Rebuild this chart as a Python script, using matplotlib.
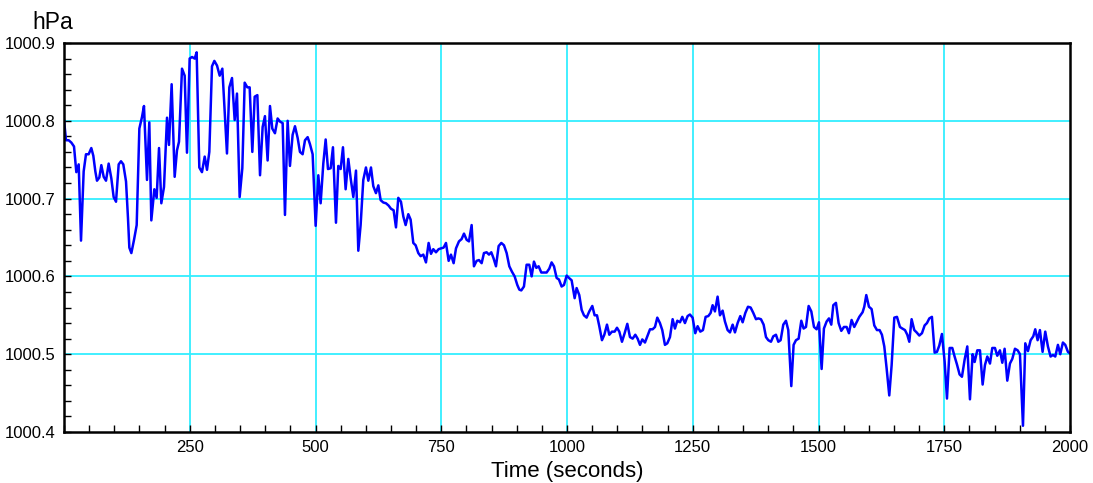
import matplotlib
matplotlib.use("Agg")
import matplotlib.pyplot as plt
from matplotlib.ticker import MultipleLocator, FixedLocator

time_s = [
    0, 4, 9.3, 14.6, 19.9, 24.5, 29.2, 33.8, 39.1, 43.7, 49, 54.3, 58.3, 62.3, 65.6,
    70.2, 74.2, 78.9, 83.5, 88.8, 94.1, 98.7, 103.4, 108.7, 113.3, 117.9, 123.3, 127.2,
    129.9, 133.9, 139.2, 144.5, 149.8, 155.1, 159.0, 165.0, 169.6, 173.6, 179.6, 184.2,
    188.9, 193.5, 198.8, 204.8, 208.7, 214.0, 220.0, 224.6, 228.6, 234.6, 239.9, 244.5,
    249.8, 254.5, 259.8, 263.7, 269.0, 274.3, 279.7, 284.3, 288.9, 294.2, 298.9, 304.2,
    309.5, 314.8, 324.0, 328.7, 334.0, 339.3, 343.9, 349.2, 354.5, 359.2, 364.5, 369.1,
    374.4, 379.1, 384.4, 389.7,
    394.9, 399.5, 404.8, 409.5, 414.1, 419.4, 424.7, 429.4, 434.7, 439.3, 444.6, 449.2,
    454.5, 459.2, 464.5, 469.1, 474.4, 479.1, 484.4, 489.0, 494.3, 500.3, 505.6, 510.2,
    515.5, 520.2, 524.8, 530.1, 534.7, 540.7, 545.3, 550.0, 554.6, 559.9, 565.2, 569.9,
    575.2, 580.5, 585.1, 589.7, 595.0, 600.3, 605.0, 610.3, 614.9, 620.2, 624.9, 629.5,
    634.8, 640.1, 645.4, 650.0, 655.3, 660.0, 664.6, 669.9, 674.6, 679.2, 684.5, 689.1,
    694.4, 699.1, 704.4, 709.0, 714.3, 719.6, 724.9, 729.6, 734.2, 739.5, 744.8, 749.4,
    754.7, 759.4, 764.7, 769.3, 774.6, 779.3, 785.2,
    790.5, 795.2, 800.5, 805.1, 810.4, 815.0, 820.3, 825.0, 830.3, 834.9, 840.2, 844.9,
    849.5, 854.1, 858.8, 864.1, 869.4, 874.7, 880.0, 885.3, 890.6, 895.9, 901.2, 905.2,
    909.1, 914.4, 919.7, 925.0, 929.7, 934.3, 939.0, 943.6, 948.9, 954.2, 959.5, 964.8,
    969.4, 974.1, 979.4, 984.0, 989.3, 994.0, 999.3, 1004.0, 1009.2, 1015.2, 1019.1,
    1024.4, 1029.1, 1033.7, 1039.0, 1044.3, 1050.3, 1054.9, 1059.6, 1064.2, 1069.5,
    1074.2, 1079.5, 1084.1, 1089.4, 1094.7, 1099.4, 1104.0, 1109.3, 1114.6, 1119.9,
    1125.2, 1130.5, 1135.8, 1140.4, 1145.1, 1149.7, 1155.0, 1159.6, 1165.0, 1170.2,
    1174.9, 1179.5, 1184.8,
    1189.4, 1194.7, 1199.4, 1204.7, 1210.0, 1214.6, 1219.3, 1224.6, 1229.2, 1234.5,
    1239.8, 1244.4, 1249.7, 1255.0, 1259.7, 1265.0, 1270.3, 1275.6, 1280.9, 1285.5,
    1289.5, 1294.1, 1299.4, 1304.1, 1309.4, 1314.0, 1319.3, 1324.0, 1329.3, 1333.9,
    1339.2, 1344.5, 1349.2, 1354.5, 1359.8, 1365.1, 1370.4, 1375.7, 1380.3, 1385.6,
    1390.9, 1395.6, 1400.2, 1405.5, 1410.1, 1415.4, 1420.1, 1424.7, 1430.0, 1435.3,
    1439.9, 1445.9, 1450.5, 1455.2, 1460.5, 1465.8, 1470.4, 1475.1, 1480.4, 1485.7,
    1491.0, 1496.3, 1500.9, 1506.2, 1510.8, 1516.1, 1520.8, 1525.4, 1529.4, 1534.7,
    1540.0, 1545.3, 1550.6, 1555.9, 1560.5, 1565.8, 1571.1, 1576.4, 1581.1,
    1587.7, 1591.0, 1595.0, 1600.3, 1605.6, 1610.9, 1616.2, 1621.5, 1626.1, 1630.8,
    1635.4, 1640.7, 1645.4, 1650.7, 1656.0, 1661.9, 1666.6, 1671.9, 1676.5, 1680.5,
    1685.1, 1690.4, 1695.1, 1700.4, 1705.7, 1711.0, 1715.6, 1720.3, 1725.5, 1730.9,
    1735.5, 1740.1, 1745.4, 1750.7, 1755.4, 1760.7, 1766.0, 1770.6, 1775.2, 1780.5,
    1785.2, 1790.5, 1795.8, 1801.1, 1806.4, 1810.4, 1815.7, 1821.0, 1826.3, 1830.9,
    1835.6, 1840.9, 1845.5, 1850.8, 1855.4, 1860.7, 1865.4, 1870.0, 1875.3, 1880.6,
    1885.3, 1890.6, 1895.9, 1900.5, 1906.5, 1911.1, 1916.4, 1921.7, 1927.0, 1930.9,
    1935.6, 1940.2, 1945.5, 1950.8, 1956.1, 1961.4, 1966.1, 1970.7, 1976.0, 1980.6,
    1985.9, 1990.6, 1995.9, 2000,
]
pressure_hpa = [
    1000.801, 1000.775, 1000.775, 1000.772, 1000.767, 1000.734, 1000.744, 1000.646,
    1000.735, 1000.757, 1000.757, 1000.765, 1000.755, 1000.735, 1000.723, 1000.727,
    1000.743, 1000.728, 1000.723, 1000.745, 1000.726, 1000.702, 1000.696, 1000.744,
    1000.748, 1000.744, 1000.722, 1000.675, 1000.637, 1000.630, 1000.647, 1000.666,
    1000.790, 1000.805, 1000.819, 1000.724, 1000.798, 1000.672, 1000.712, 1000.701,
    1000.765, 1000.694, 1000.715, 1000.804, 1000.769, 1000.847, 1000.728, 1000.762,
    1000.773, 1000.867, 1000.858, 1000.759, 1000.880, 1000.882, 1000.880, 1000.888,
    1000.740, 1000.734, 1000.754, 1000.737, 1000.760, 1000.870, 1000.877, 1000.871,
    1000.858, 1000.867, 1000.758, 1000.843, 1000.855, 1000.801, 1000.835, 1000.702,
    1000.739, 1000.849, 1000.843, 1000.843, 1000.760, 1000.831, 1000.833, 1000.730,
    1000.792, 1000.806, 1000.749, 1000.819, 1000.790, 1000.784, 1000.803, 1000.799,
    1000.797, 1000.679, 1000.800, 1000.742, 1000.782, 1000.793, 1000.778, 1000.760,
    1000.757, 1000.775, 1000.779, 1000.770, 1000.757, 1000.665, 1000.730, 1000.694,
    1000.745, 1000.776, 1000.738, 1000.739, 1000.766, 1000.669, 1000.742, 1000.738,
    1000.766, 1000.712, 1000.751, 1000.726, 1000.702, 1000.736, 1000.633, 1000.666,
    1000.724, 1000.740, 1000.723, 1000.740, 1000.716, 1000.707, 1000.717, 1000.698,
    1000.695, 1000.694, 1000.691, 1000.687, 1000.685, 1000.663, 1000.701, 1000.696,
    1000.677, 1000.666, 1000.680, 1000.673, 1000.643, 1000.640, 1000.630, 1000.626,
    1000.628, 1000.618, 1000.643, 1000.629, 1000.635, 1000.631, 1000.635, 1000.636,
    1000.637, 1000.643, 1000.620, 1000.628, 1000.617, 1000.636, 1000.645,
    1000.648, 1000.655, 1000.647, 1000.645, 1000.666, 1000.613, 1000.620, 1000.621,
    1000.617, 1000.630, 1000.631, 1000.628, 1000.631, 1000.623, 1000.613, 1000.639,
    1000.643, 1000.640, 1000.630, 1000.613, 1000.606, 1000.600, 1000.589, 1000.583,
    1000.582, 1000.587, 1000.615, 1000.615, 1000.600, 1000.619, 1000.611, 1000.613,
    1000.605, 1000.605, 1000.605, 1000.610, 1000.618, 1000.613, 1000.598, 1000.596,
    1000.587, 1000.589, 1000.601, 1000.598, 1000.595, 1000.572, 1000.585, 1000.576,
    1000.557, 1000.550, 1000.547, 1000.555, 1000.562, 1000.550, 1000.550, 1000.536,
    1000.518, 1000.525, 1000.538, 1000.525, 1000.529, 1000.529, 1000.534, 1000.529,
    1000.516, 1000.527, 1000.539, 1000.522, 1000.520, 1000.525, 1000.520, 1000.512,
    1000.519, 1000.515, 1000.523, 1000.532, 1000.532, 1000.535, 1000.547, 1000.540,
    1000.531, 1000.512, 1000.514, 1000.522, 1000.545, 1000.533, 1000.543, 1000.541,
    1000.548, 1000.540, 1000.549, 1000.551, 1000.547, 1000.527, 1000.536, 1000.529,
    1000.531, 1000.548, 1000.549, 1000.553, 1000.563, 1000.555, 1000.574, 1000.550,
    1000.556, 1000.542, 1000.531, 1000.528, 1000.538, 1000.528, 1000.540, 1000.549,
    1000.541, 1000.553, 1000.561, 1000.560, 1000.553, 1000.545, 1000.546, 1000.545,
    1000.538, 1000.522, 1000.518, 1000.516, 1000.523, 1000.525, 1000.516, 1000.518,
    1000.538, 1000.543, 1000.531, 1000.459, 1000.512, 1000.518, 1000.520, 1000.543,
    1000.533, 1000.535, 1000.562, 1000.555, 1000.535, 1000.532, 1000.541, 1000.481,
    1000.533, 1000.542, 1000.546, 1000.538, 1000.563, 1000.566, 1000.540, 1000.530,
    1000.535, 1000.535, 1000.527, 1000.544, 1000.535, 1000.542, 1000.548,
    1000.554, 1000.561, 1000.576, 1000.561, 1000.558, 1000.537, 1000.531, 1000.531,
    1000.525, 1000.510, 1000.482, 1000.447, 1000.486, 1000.547, 1000.548, 1000.535,
    1000.533, 1000.531, 1000.525, 1000.516, 1000.545, 1000.531, 1000.528, 1000.524,
    1000.527, 1000.537, 1000.540, 1000.546, 1000.548, 1000.502, 1000.503, 1000.511,
    1000.526, 1000.491, 1000.443, 1000.508, 1000.508, 1000.497, 1000.487, 1000.474,
    1000.471, 1000.493, 1000.510, 1000.442, 1000.500, 1000.490, 1000.505, 1000.505,
    1000.461, 1000.486, 1000.497, 1000.488, 1000.508, 1000.508, 1000.498, 1000.505,
    1000.489, 1000.507, 1000.466, 1000.488, 1000.494, 1000.507, 1000.505, 1000.500,
    1000.408, 1000.514, 1000.504, 1000.518, 1000.523, 1000.532, 1000.518, 1000.531,
    1000.503, 1000.529, 1000.510, 1000.497, 1000.499, 1000.497, 1000.512, 1000.500,
    1000.515, 1000.512, 1000.503, 1000.501,
]

x_ticks = [250, 500, 750, 1000, 1250, 1500, 1750, 2000]
y_ticks = [1000.4, 1000.5, 1000.6, 1000.7, 1000.8, 1000.9]

plt.rcParams['font.family'] = ['Liberation Sans', 'DejaVu Sans']

fig = plt.figure(figsize=(10.93, 4.83), dpi=100)
ax = fig.add_axes([64 / 1093, 1 - 432 / 483, 1006 / 1093, 389 / 483])

# cyan grid lines, drawn under the trace
for x in x_ticks[:-1]:
    ax.axvline(x, color='#33eeff', lw=1.3, zorder=1)
for y in y_ticks[1:-1]:
    ax.axhline(y, color='#33eeff', lw=1.3, zorder=1)

ax.plot(time_s, pressure_hpa, color='#0000ff', lw=1.8, zorder=3)

ax.set_xlim(0, 2000)
ax.set_ylim(1000.4, 1000.9)
ax.xaxis.set_major_locator(FixedLocator(x_ticks))
ax.xaxis.set_minor_locator(MultipleLocator(50))
ax.yaxis.set_major_locator(FixedLocator(y_ticks))
ax.yaxis.set_minor_locator(MultipleLocator(0.02))
ax.set_xticklabels([str(v) for v in x_ticks])
ax.set_yticklabels(['%.1f' % v for v in y_ticks])
ax.tick_params(which='both', direction='in', length=5, width=1, labelsize=12,
               top=False, right=False, color='black')
ax.tick_params(axis='x', pad=6)
ax.tick_params(axis='y', pad=6)

for s in ax.spines.values():
    s.set_linewidth(1.8)
    s.set_zorder(5)

ax.set_xlabel('Time (seconds)', fontsize=16, labelpad=4)
fig.text(53 / 1093, 1 - 29 / 483, 'hPa', fontsize=16.5, ha='center', va='baseline')

fig.savefig('out.png', dpi=100)
